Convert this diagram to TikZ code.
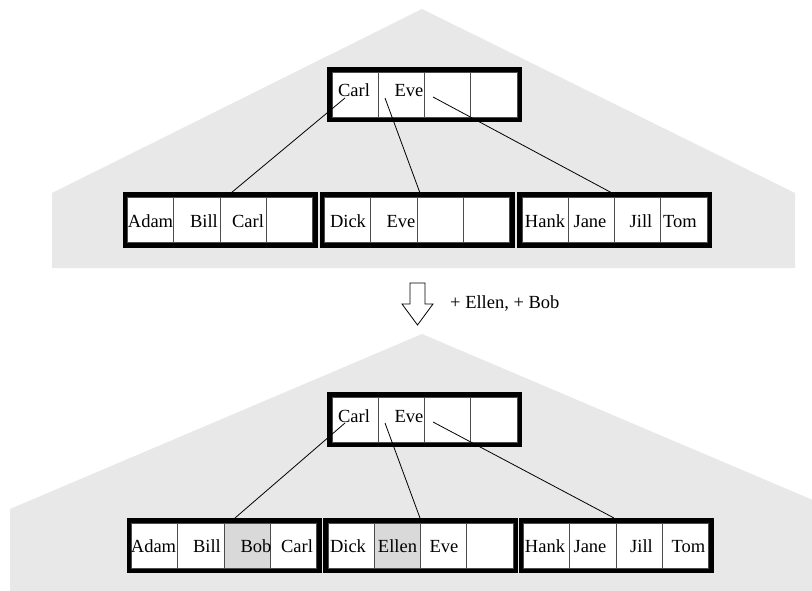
\documentclass[tikz,border=0pt]{standalone}
\usepackage{fontspec}
\setmainfont{Liberation Serif}
\usepackage{tikz}
\usetikzlibrary{positioning}
\definecolor{treegray}{gray}{0.91}
\definecolor{newkey}{gray}{0.85}
\tikzset{bt_picture/.style={x=1pt,y=-1pt,line join=miter}}
\tikzset{bt_frame/.style={draw=black, line width=5pt, fill=white, minimum width=190pt, minimum height=50pt, inner sep=0pt, outer sep=0pt}}
\tikzset{bt_cell/.style={draw=black!70, line width=0.8pt, minimum width=46.25pt, minimum height=45pt, inner sep=0pt, outer sep=0pt}}
\tikzset{bt_key/.style={anchor=base, inner sep=0pt, font=\fontsize{18.5}{22}\selectfont}}
\tikzset{bt_ptr/.style={draw=black, line width=0.8pt}}

\begin{document}
\begin{tikzpicture}[bt_picture]
    \useasboundingbox (0,0) rectangle (812,591);
    \clip (0,0) rectangle (812,591);
    % the two trees
    \fill[treegray] (52,268) -- (52,193) -- (422,9) -- (795,193) -- (795,268) -- cycle;
    \fill[treegray] (10,600) -- (10,509) -- (422,334) -- (834,509) -- (834,600) -- cycle;

    % before
    \node[bt_frame] (rootA) at (424.5,94.5) {};
    \node[bt_frame] (leftA) at (220,220) {};
    \node[bt_frame] (midA) at (417,220) {};
    \node[bt_frame] (rightA) at (614.5,220) {};
    % after
    \node[bt_frame] (rootB) at (424.5,419.5) {};
    \node[bt_frame] (leftB) at (224,545.5) {};
    \node[bt_frame] (midB) at (420.5,545.5) {};
    \node[bt_frame] (rightB) at (616,545.5) {};

    \foreach \f in {rootA,leftA,midA,rightA,rootB,leftB,midB,rightB} {
        \node[bt_cell, anchor=west] (\f1) at ([xshift=2.5pt]\f.west) {};
        \node[bt_cell, right=0pt of \f1] (\f2) {};
        \node[bt_cell, right=0pt of \f2] (\f3) {};
        \node[bt_cell, right=0pt of \f3] (\f4) {};
    }
    % new keys
    \path[fill=newkey, draw=black!70, line width=0.8pt] (leftB3.south west) rectangle (leftB3.north east);
    \path[fill=newkey, draw=black!70, line width=0.8pt] (midB2.south west) rectangle (midB2.north east);

    \node[bt_key] (kA1) at (354,97) {Carl};
    \node[bt_key] (kA2) at (409,97) {Eve};
    \node[bt_key] (kA3) at (150.5,227.5) {Adam};
    \node[bt_key] (kA4) at (204,227.5) {Bill};
    \node[bt_key] (kA5) at (248,227.5) {Carl};
    \node[bt_key] (kA6) at (348,227.5) {Dick};
    \node[bt_key] (kA7) at (401,227.5) {Eve};
    \node[bt_key] (kA8) at (545,227.5) {Hank};
    \node[bt_key] (kA9) at (590,227.5) {Jane};
    \node[bt_key] (kA10) at (641,227.5) {Jill};
    \node[bt_key] (kA11) at (680,227.5) {Tom};

    \node[bt_key] (kB1) at (354,422) {Carl};
    \node[bt_key] (kB2) at (409,422) {Eve};
    \node[bt_key] (kB3) at (153.5,552) {Adam};
    \node[bt_key] (kB4) at (207,552) {Bill};
    \node[bt_key] (kB5) at (256,552) {Bob};
    \node[bt_key] (kB6) at (297,552) {Carl};
    \node[bt_key] (kB7) at (348,552) {Dick};
    \node[bt_key] (kB8) at (397.5,552) {Ellen};
    \node[bt_key] (kB9) at (444,552) {Eve};
    \node[bt_key] (kB10) at (545,552) {Hank};
    \node[bt_key] (kB11) at (590,552) {Jane};
    \node[bt_key] (kB12) at (641.5,552) {Jill};
    \node[bt_key] (kB13) at (688.5,552) {Tom};

    % pointers
    \coordinate (pA1) at (345,98);
    \coordinate (pA2) at (385,98);
    \coordinate (pA3) at (433,97);
    \coordinate (eA1) at (231,193);
    \coordinate (eA2) at (420,193);
    \coordinate (eA3) at (612,193);
    \coordinate (pB1) at (345,423);
    \coordinate (pB2) at (385,423);
    \coordinate (pB3) at (433,422);
    \coordinate (eB1) at (235,518);
    \coordinate (eB2) at (420,518);
    \coordinate (eB3) at (614,518);
    \draw[bt_ptr] (pA1) -- (eA1);
    \draw[bt_ptr] (pA2) -- (eA2);
    \draw[bt_ptr] (pA3) -- (eA3);
    \draw[bt_ptr] (pB1) -- (eB1);
    \draw[bt_ptr] (pB2) -- (eB2);
    \draw[bt_ptr] (pB3) -- (eB3);

    % insertion step
    \draw[line width=0.8pt, fill=white] (410,283) -- (425,283) -- (425,304) -- (433,304)
        -- (417.5,325) -- (402,304) -- (410,304) -- cycle;
    \node[bt_key, anchor=base west] (step_text) at (450,308) {+ Ellen, + Bob};
\end{tikzpicture}
\end{document}
